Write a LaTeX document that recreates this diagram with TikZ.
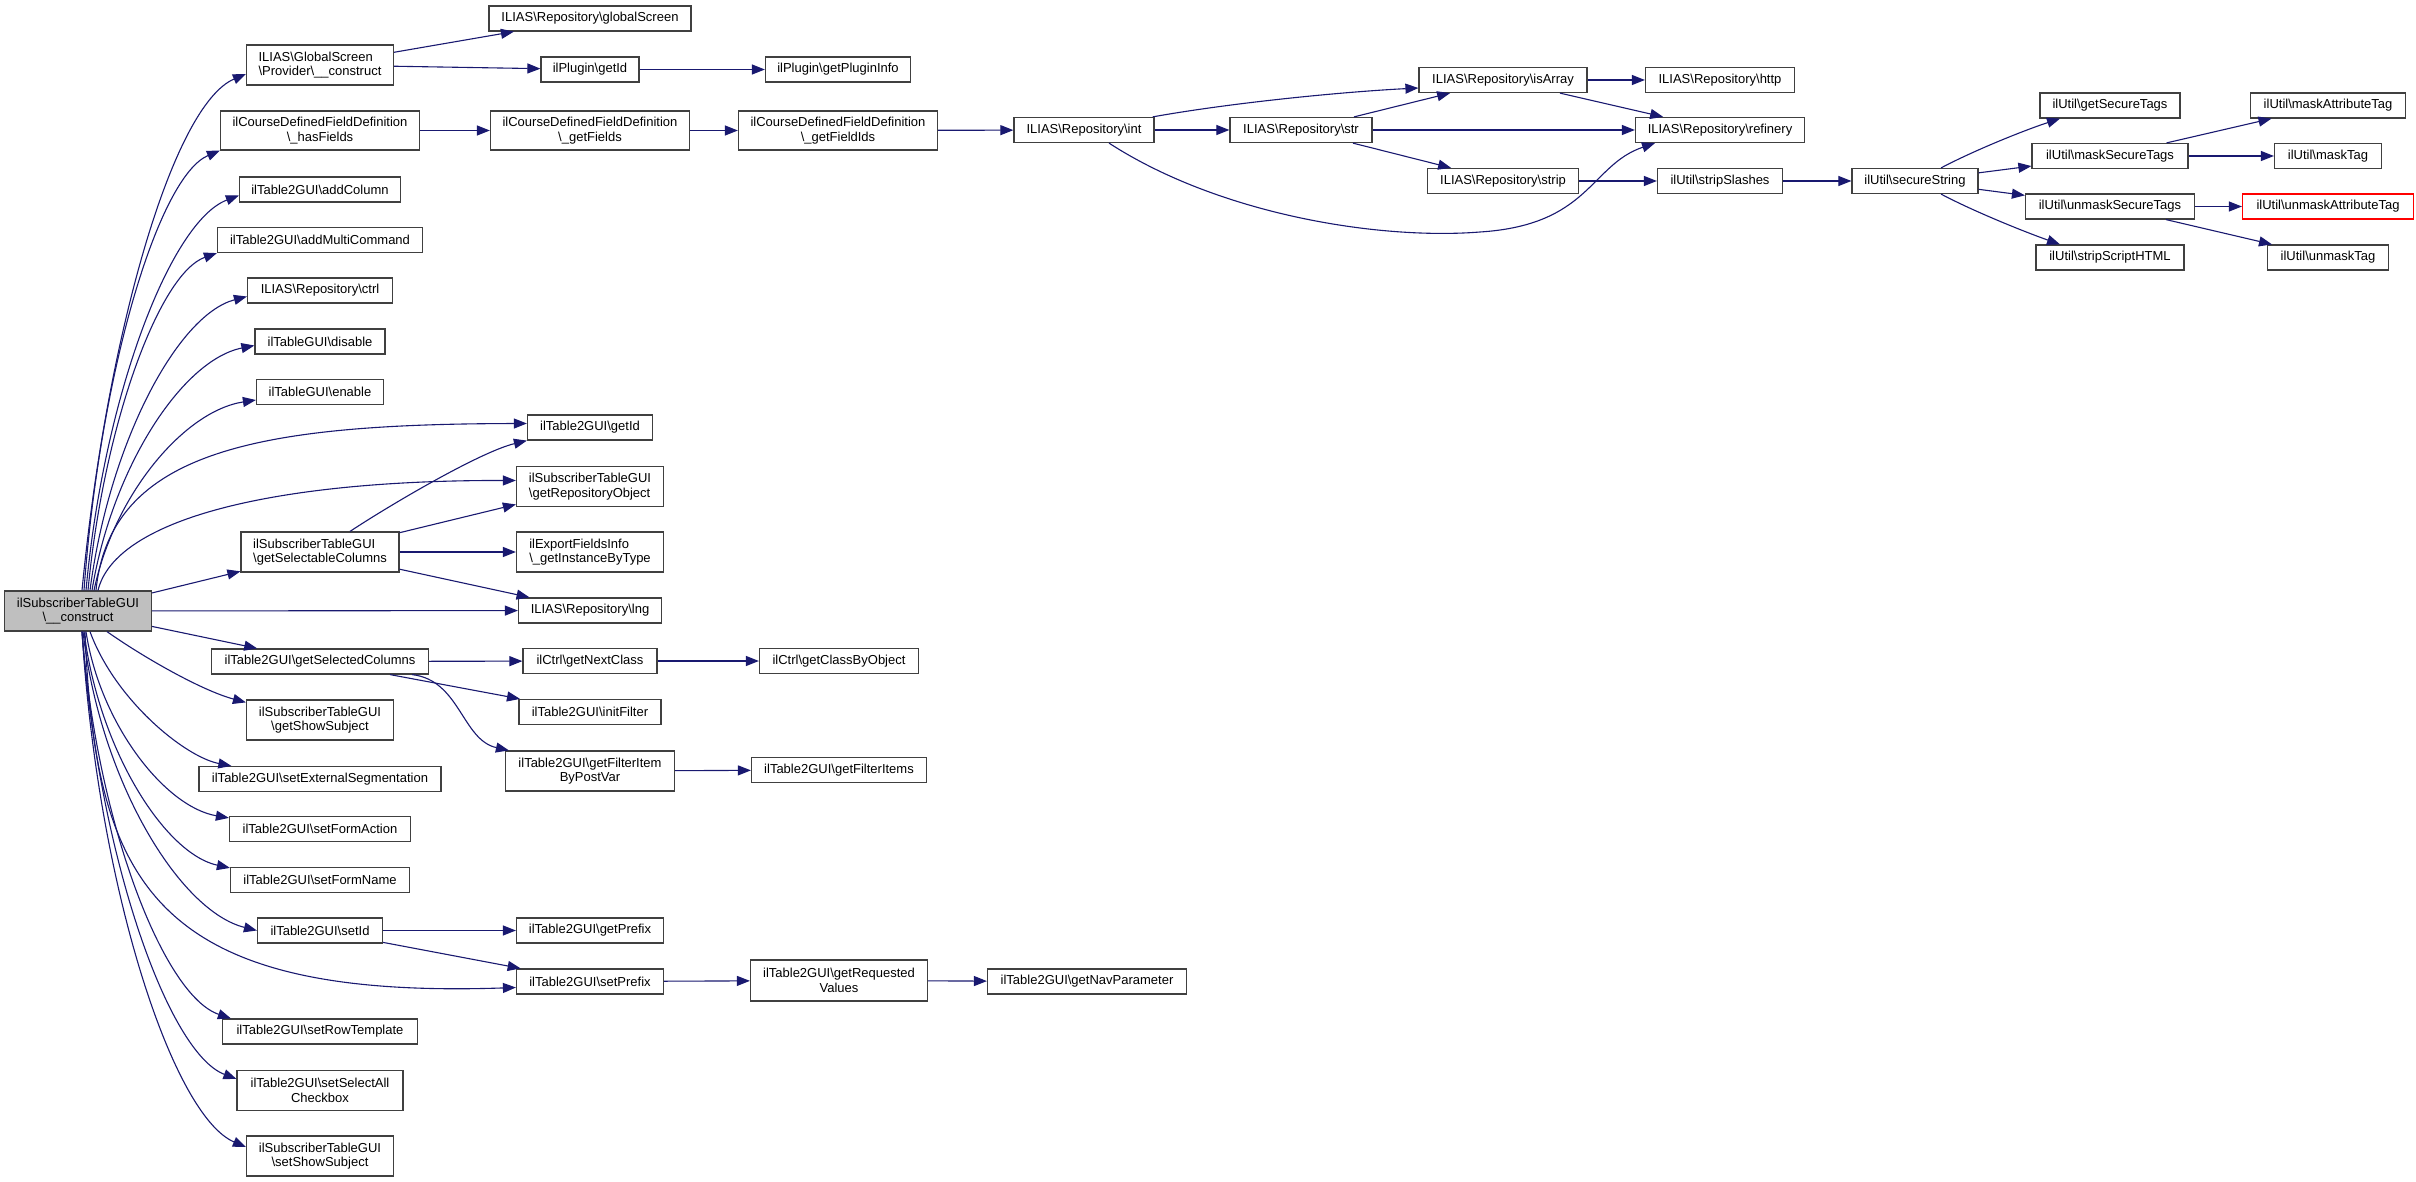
\documentclass[tikz,border=0pt]{standalone}
\usepackage{fontspec}
\setmainfont{Liberation Sans}
\usetikzlibrary{arrows.meta}
\definecolor{edgec}{HTML}{191970}
\definecolor{boxc}{HTML}{404040}
\definecolor{mainfill}{HTML}{BFBFBF}
\definecolor{redb}{HTML}{FF0000}
\begin{document}
\begin{tikzpicture}[x=1pt,y=-1pt,
  box/.style={draw=boxc, line width=1.2pt, fill=white, inner xsep=2pt, inner ysep=2pt,
    minimum height=25pt, font={\fontsize{13}{14.5}\selectfont}, align=center},
  two/.style={minimum height=40pt},
  conn/.style={draw=edgec, line width=1.1pt, -{Triangle[length=13pt,width=10pt]}},
]
\useasboundingbox (0,0) rectangle (2416,1182);
\fill[white] (0,0) rectangle (2416,1182);

% main
\node[box, two, fill=mainfill, minimum width=147pt] (main) at (78,611) {ilSubscriberTableGUI\\\textbackslash\_\_construct};

% column 1
\node[box, two, align=left, minimum width=147pt] (prov) at (320,65) {ILIAS\textbackslash GlobalScreen\\\textbackslash Provider\textbackslash\_\_construct};
\node[box, two, minimum width=199pt, minimum height=39pt] (hasf) at (320,130.5) {ilCourseDefinedFieldDefinition\\\textbackslash\_hasFields};
\node[box, minimum width=161pt] (addc) at (320,189.5) {ilTable2GUI\textbackslash addColumn};
\node[box, minimum width=205pt] (addm) at (320,240) {ilTable2GUI\textbackslash addMultiCommand};
\node[box, minimum width=145pt] (ctrl) at (320,290.5) {ILIAS\textbackslash Repository\textbackslash ctrl};
\node[box, minimum width=130pt] (dis) at (320,341.5) {ilTableGUI\textbackslash disable};
\node[box, minimum width=127pt] (ena) at (320,392) {ilTableGUI\textbackslash enable};
\node[box, two, align=left, minimum width=158pt] (gsc) at (320,552) {ilSubscriberTableGUI\\\textbackslash getSelectableColumns};
\node[box, minimum width=217pt] (gsdc) at (320,661.5) {ilTable2GUI\textbackslash getSelectedColumns};
\node[box, two, minimum width=147pt] (gss) at (320,720) {ilSubscriberTableGUI\\\textbackslash getShowSubject};
\node[box, minimum width=242pt] (ses) at (320,779) {ilTable2GUI\textbackslash setExternalSegmentation};
\node[box, minimum width=181pt] (sfa) at (320,829) {ilTable2GUI\textbackslash setFormAction};
\node[box, minimum width=179pt] (sfn) at (320,880) {ilTable2GUI\textbackslash setFormName};
\node[box, minimum width=125pt] (sid) at (320,930.5) {ilTable2GUI\textbackslash setId};
\node[box, minimum width=195pt] (srt) at (320,1031.5) {ilTable2GUI\textbackslash setRowTemplate};
\node[box, two, minimum width=166pt] (ssa) at (320,1090.5) {ilTable2GUI\textbackslash setSelectAll\\Checkbox};
\node[box, two, minimum width=147pt] (sss) at (320,1156) {ilSubscriberTableGUI\\\textbackslash setShowSubject};

% column 2
\node[box, minimum width=202pt] (gs) at (590,18.5) {ILIAS\textbackslash Repository\textbackslash globalScreen};
\node[box, minimum width=98pt] (pgid) at (590,69.5) {ilPlugin\textbackslash getId};
\node[box, two, minimum width=199pt, minimum height=39pt] (gf) at (590,130.5) {ilCourseDefinedFieldDefinition\\\textbackslash\_getFields};
\node[box, minimum width=125pt] (t2id) at (590,427.5) {ilTable2GUI\textbackslash getId};
\node[box, two, align=left, minimum width=147pt] (gro) at (590,486.5) {ilSubscriberTableGUI\\\textbackslash getRepositoryObject};
\node[box, two, align=left, minimum width=147pt] (gibt) at (590,552) {ilExportFieldsInfo\\\textbackslash\_getInstanceByType};
\node[box, minimum width=143pt] (lng) at (590,610.5) {ILIAS\textbackslash Repository\textbackslash lng};
\node[box, minimum width=134pt] (gnc) at (590,661) {ilCtrl\textbackslash getNextClass};
\node[box, minimum width=142pt] (inif) at (590,712) {ilTable2GUI\textbackslash initFilter};
\node[box, two, minimum width=169pt] (gfi) at (590,771) {ilTable2GUI\textbackslash getFilterItem\\ByPostVar};
\node[box, minimum width=147pt] (gpre) at (590,930.5) {ilTable2GUI\textbackslash getPrefix};
\node[box, minimum width=147pt] (spre) at (590,981.5) {ilTable2GUI\textbackslash setPrefix};

% column 3
\node[box, minimum width=145pt] (gpi) at (838,69.5) {ilPlugin\textbackslash getPluginInfo};
\node[box, two, minimum width=199pt, minimum height=39pt] (gfids) at (838,130.5) {ilCourseDefinedFieldDefinition\\\textbackslash\_getFieldIds};
\node[box, minimum width=159pt] (gcbo) at (839,661) {ilCtrl\textbackslash getClassByObject};
\node[box, minimum width=175pt] (gfis) at (839,770) {ilTable2GUI\textbackslash getFilterItems};
\node[box, two, minimum width=177pt, minimum height=41pt] (grv) at (839,980.5) {ilTable2GUI\textbackslash getRequested\\Values};

% further columns
\node[box, minimum width=140pt] (int) at (1084,130) {ILIAS\textbackslash Repository\textbackslash int};
\node[box, minimum width=199pt] (gnp) at (1087,981.5) {ilTable2GUI\textbackslash getNavParameter};
\node[box, minimum width=142pt] (str) at (1301,130) {ILIAS\textbackslash Repository\textbackslash str};
\node[box, minimum width=168pt] (isarr) at (1503,80) {ILIAS\textbackslash Repository\textbackslash isArray};
\node[box, minimum width=151pt] (strip) at (1503,181) {ILIAS\textbackslash Repository\textbackslash strip};
\node[box, minimum width=149pt] (http) at (1720,80) {ILIAS\textbackslash Repository\textbackslash http};
\node[box, minimum width=169pt] (ref) at (1720,130) {ILIAS\textbackslash Repository\textbackslash refinery};
\node[box, minimum width=125pt] (ssl) at (1720,181) {ilUtil\textbackslash stripSlashes};
\node[box, minimum width=126pt] (sstr) at (1915,181) {ilUtil\textbackslash secureString};
\node[box, minimum width=140pt] (gst) at (2110,105.5) {ilUtil\textbackslash getSecureTags};
\node[box, minimum width=156pt] (mst) at (2110,156) {ilUtil\textbackslash maskSecureTags};
\node[box, minimum width=169pt] (umst) at (2110,206.5) {ilUtil\textbackslash unmaskSecureTags};
\node[box, minimum width=148pt] (ssh) at (2110,257.5) {ilUtil\textbackslash stripScriptHTML};
\node[box, minimum width=155pt] (mat) at (2328,105.5) {ilUtil\textbackslash maskAttributeTag};
\node[box, minimum width=107pt] (mtag) at (2328,156) {ilUtil\textbackslash maskTag};
\node[box, draw=redb, minimum width=171pt] (umat) at (2328,206.5) {ilUtil\textbackslash unmaskAttributeTag};
\node[box, minimum width=121pt] (umtag) at (2328,257.5) {ilUtil\textbackslash unmaskTag};

% main edges, upward
\draw[conn] ([xshift=4pt]main.north) .. controls (107,333) and (173,105) .. ([yshift=-9pt]prov.west);
\draw[conn] ([xshift=6pt]main.north) .. controls (100,370) and (159,176) .. (hasf.south west);
\draw[conn] ([xshift=8pt]main.north) .. controls (104,394) and (171,221) .. ([yshift=-6pt]addc.west);
\draw[conn] ([xshift=10pt]main.north) .. controls (104,422) and (160,273) .. (addm.south west);
\draw[conn] ([xshift=12pt]main.north) .. controls (109,444) and (177,315) .. ([yshift=-6pt]ctrl.west);
\draw[conn] ([xshift=14pt]main.north) .. controls (112,468) and (182,360) .. ([yshift=-4pt]dis.west);
\draw[conn] ([xshift=16pt]main.north) .. controls (114,495) and (184,411) .. ([yshift=-8pt]ena.west);
\draw[conn] ([xshift=18pt]main.north) .. controls (110,450) and (260,424) .. ([yshift=4pt]t2id.west);
\draw[conn] ([xshift=20pt]main.north) .. controls (115,520) and (270,480) .. ([yshift=6pt]gro.west);
\draw[conn] (main) -- (gsc);
\draw[conn] (main) -- (lng);
\draw[conn] (main) -- (gsdc);
% main edges, downward
\draw[conn] ([xshift=29pt]main.south) .. controls (140,655) and (200,690) .. ([yshift=-3pt]gss.north west);
\draw[conn] ([xshift=12pt]main.south) .. controls (115,700) and (185,757) .. ([xshift=33pt]ses.north west);
\draw[conn] ([xshift=8pt]main.south) .. controls (100,724) and (165,807) .. ([yshift=-2pt]sfa.north west);
\draw[conn] ([xshift=6pt]main.south) .. controls (99,750) and (165,854) .. ([yshift=-1pt]sfn.north west);
\draw[conn] ([xshift=5pt]main.south) .. controls (100,780) and (179,911) .. (sid.west);
\draw[conn] ([xshift=7pt]main.south) .. controls (95,880) and (150,1000) .. ([yshift=-6pt]spre.west);
\draw[conn] ([xshift=4pt]main.south) .. controls (97,825) and (164,996) .. ([xshift=9pt]srt.north west);
\draw[conn] ([xshift=4pt]main.south) .. controls (98,855) and (168,1053) .. ([yshift=-9pt]ssa.north west);
\draw[conn] ([xshift=4pt]main.south) .. controls (98,889) and (173,1116) .. ([yshift=9pt]sss.west);

% other edges
\draw[conn] (prov) -- (gs);
\draw[conn] (prov) -- (pgid);
\draw[conn] (pgid) -- (gpi);
\draw[conn] (hasf) -- (gf);
\draw[conn] (gf) -- (gfids);
\draw[conn] (gfids) -- (int);
\draw[conn] ([xshift=-2pt]int.north east) .. controls (1230,103) and (1340,92) .. ([yshift=-8pt]isarr.west);
\draw[conn] (int) -- (str);
\draw[conn] ([xshift=25pt]int.south) .. controls (1220,215) and (1380,240) .. (1480,232) .. controls (1590,225) and (1590,165) .. ([xshift=-65pt]ref.south);
\draw[conn] (str) -- (isarr);
\draw[conn] (str) -- (ref);
\draw[conn] (str) -- (strip);
\draw[conn] (isarr) -- (http);
\draw[conn] (isarr) -- (ref);
\draw[conn] (strip) -- (ssl);
\draw[conn] (ssl) -- (sstr);
\draw[conn] ([xshift=26pt]sstr.north) .. controls (1975,150) and (2025,130) .. ([xshift=-50pt]gst.south);
\draw[conn] (sstr) -- (mst);
\draw[conn] (sstr) -- (umst);
\draw[conn] ([xshift=26pt]sstr.south) .. controls (1975,212) and (2025,232) .. ([xshift=-50pt]ssh.north);
\draw[conn] (mst) -- (mat);
\draw[conn] (mst) -- (mtag);
\draw[conn] (umst) -- (umat);
\draw[conn] (umst) -- (umtag);
\draw[conn] ([xshift=30pt]gsc.north) .. controls (390,505) and (480,452) .. (t2id.south west);
\draw[conn] (gsc) -- (gro);
\draw[conn] (gsc) -- (gibt);
\draw[conn] (gsc) -- (lng);
\draw[conn] (gsdc) -- (gnc);
\draw[conn] (gsdc) -- (inif);
\draw[conn] ([xshift=92pt]gsdc.south) .. controls (460,680) and (462,740) .. ([xshift=4pt]gfi.north west);
\draw[conn] (gnc) -- (gcbo);
\draw[conn] (gfi) -- (gfis);
\draw[conn] (sid) -- (gpre);
\draw[conn] (sid) -- (spre);
\draw[conn] (spre) -- (grv);
\draw[conn] (grv) -- (gnp);
\end{tikzpicture}
\end{document}
